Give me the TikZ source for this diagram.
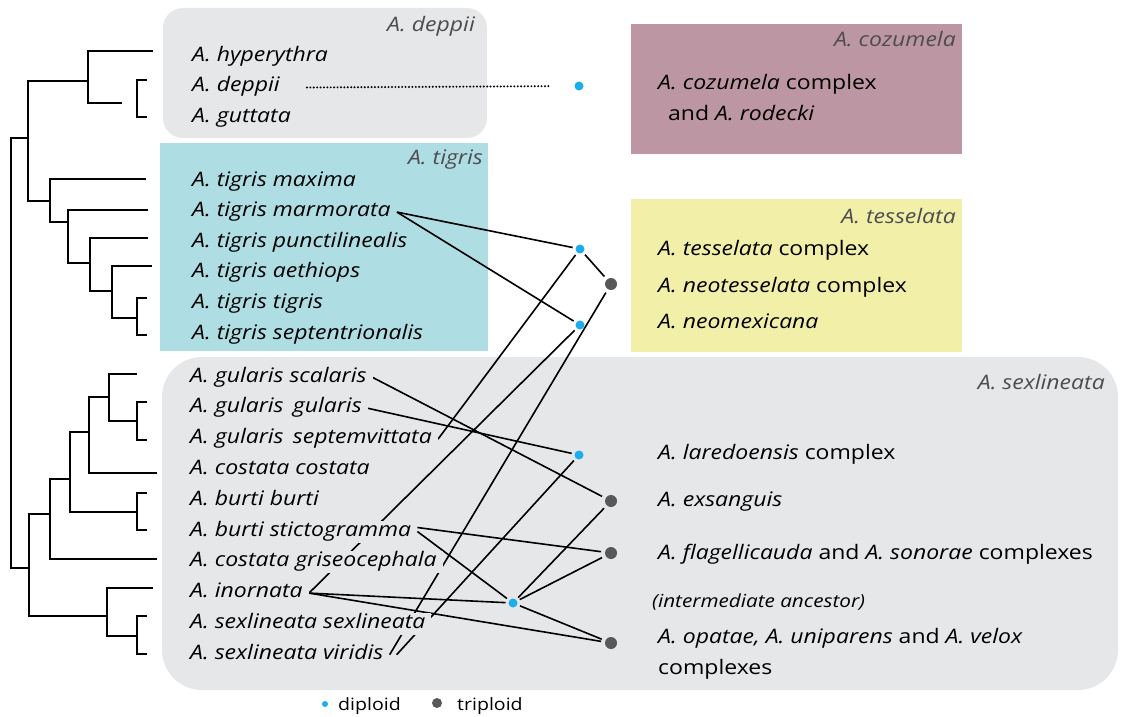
\documentclass[tikz,border=0pt]{standalone}
\usepackage{fontspec}
\setmainfont{Open Sans}[FakeStretch=1.15]

\definecolor{boxgray}{HTML}{E6E7E8}
\definecolor{tigriscyan}{HTML}{AEDDE3}
\definecolor{cozmauve}{HTML}{BC96A2}
\definecolor{tessyellow}{HTML}{F2F0A8}
\definecolor{labelgray}{HTML}{4D4D4F}
\definecolor{dipblue}{HTML}{1BADEC}
\definecolor{tripgray}{HTML}{58585A}

\pgfdeclarelayer{boxes}
\pgfdeclarelayer{links}
\pgfsetlayers{boxes,links,main}

\begin{document}
\begin{tikzpicture}[x=1pt, y=-1pt]
          \tikzstyle{taxon}=[anchor=base west, inner xsep=6pt, inner ysep=1.5pt, text height=14pt, text depth=5pt, font=\fontsize{20}{24}\selectfont\itshape]
          \tikzstyle{knock}=[taxon, fill=boxgray]
          \tikzstyle{group}=[anchor=base east, inner sep=0pt, text=labelgray, font=\fontsize{20}{24}\selectfont\itshape]
          \tikzstyle{clade}=[anchor=base west, inner sep=0pt, font=\fontsize{20}{24}\selectfont]
          \tikzstyle{diploid}=[circle, fill=dipblue, inner sep=0pt, minimum size=9pt, outer sep=3pt]
          \tikzstyle{triploid}=[circle, fill=tripgray, inner sep=0pt, minimum size=12pt, outer sep=4pt]
          \tikzstyle{branch}=[line width=1.6pt]
          \tikzstyle{link}=[line width=1.6pt]

          \useasboundingbox (0,0) rectangle (1122,717);

          \begin{pgfonlayer}{boxes}
            \fill[boxgray, rounded corners=20pt] (163,8) rectangle (487,138);
            \fill[tigriscyan] (160,143) rectangle (488,351);
            \fill[cozmauve] (631,24) rectangle (962,154);
            \fill[tessyellow] (631,199) rectangle (962,352);
            \fill[boxgray, rounded corners=40pt] (162,357) rectangle (1118,690);
          \end{pgfonlayer}

          \node (deppiilabel) at (475,32) [group] {A. deppii};
          \node (tigrislabel) at (483,164) [group] {A. tigris};
          \node (cozumelalabel) at (956,47) [group] {A. cozumela};
          \node (tesselatalabel) at (956,223) [group] {A. tesselata};
          \node (sexlineatalabel) at (1105,389) [group] {A. sexlineata};

          \node (hyper) at (186,62) [taxon] {A. hyperythra};
          \node (deppii) at (186,92) [taxon] {A. deppii};
          \node (gutt) at (186,122) [taxon] {A. guttata};

          \node (tmax) at (186,186) [taxon] {A. tigris maxima};
          \node (tmarm) at (186,216.6) [taxon] {A. tigris marmorata};
          \node (tpunct) at (186,247.2) [taxon] {A. tigris punctilinealis};
          \node (taeth) at (186,277.8) [taxon] {A. tigris aethiops};
          \node (ttig) at (186,308.4) [taxon] {A. tigris tigris};
          \node (tsept) at (186,339) [taxon] {A. tigris septentrionalis};

          \node (gscal) at (184,382) [knock] {A. gularis scalaris};
          \node (ggul) at (184,412.8) [knock] {A. gularis\, gularis};
          \node (gsept) at (184,443.6) [knock] {A. gularis\, septemvittata};
          \node (ccost) at (184,474.4) [knock] {A. costata costata};
          \node (bburti) at (184,505.2) [knock] {A. burti burti};
          \node (bstict) at (184,536) [knock] {A. burti stictogramma};
          \node (cgris) at (184,566.8) [knock] {A. costata griseocephala};
          \node (inorn) at (184,597.6) [knock] {A. inornata};
          \node (ssex) at (184,628.4) [knock] {A. sexlineata sexlineata};
          \node (svir) at (184,659.2) [knock] {A. sexlineata viridis};

          \node (cozumela) at (658,89) [clade] {\textit{A. cozumela} complex};
          \node (rodecki) at (668,121) [clade] {and \textit{A. rodecki}};
          \node (tesselata) at (658,255) [clade] {\textit{A. tesselata} complex};
          \node (neotess) at (658,292) [clade] {\textit{A. neotesselata} complex};
          \node (neomex) at (658,328) [clade] {\textit{A. neomexicana}};
          \node (laredo) at (658,459) [clade] {\textit{A. laredoensis} complex};
          \node (exsang) at (658,506) [clade] {\textit{A. exsanguis}};
          \node (flagel) at (658,559) [clade] {\textit{A. flagellicauda} and \textit{A. sonorae} complexes};
          \node (interm) at (652,607) [clade, font=\fontsize{18}{22}\selectfont\itshape] {(intermediate ancestor)};
          \node (opatae) at (658,643) [clade] {\textit{A. opatae, A. uniparens} and \textit{A. velox}};
          \node (opatae2) at (658,674) [clade] {complexes};

          \node (dd) at (579,86) [diploid] {};
          \node (d1) at (580,249) [diploid] {};
          \node (t1) at (611,284) [triploid] {};
          \node (d2) at (580,325) [diploid] {};
          \node (d3) at (579,455) [diploid] {};
          \node (t2) at (611,501) [triploid] {};
          \node (t3) at (611,553) [triploid] {};
          \node (d4) at (513,603) [diploid] {};
          \node (t4) at (611,643) [triploid] {};

          \draw[branch] (28,138) -| (11,568) -- (29,568);
          \draw[branch] (88,81) -| (28,201) -- (50,201);
          \draw[branch] (153,51) -| (88,103) -- (122,103);
          \draw[branch] (147,80) -| (137,117) -- (147,117);
          \draw[branch] (146,179) -| (50,222) -- (68,222);
          \draw[branch] (148,210) -| (68,263) -- (90,263);
          \draw[branch] (148,238) -| (90,291) -- (112,291);
          \draw[branch] (152,266) -| (112,318) -- (137,318);
          \draw[branch] (147,298) -| (137,335) -- (147,335);
          \draw[branch] (50,514) -| (29,616) -- (107,616);
          \draw[branch] (70,479) -| (50,559) -- (157,559);
          \draw[branch] (89,432) -| (70,512) -- (137,512);
          \draw[branch] (147,493) -| (137,530) -- (147,530);
          \draw[branch] (109,397) -| (89,473) -- (157,473);
          \draw[branch] (137,374) -| (109,421) -- (137,421);
          \draw[branch] (147,402) -| (137,440) -- (147,440);
          \draw[branch] (153,588) -| (107,636) -- (137,636);
          \draw[branch] (147,616) -| (137,654) -- (147,654);

          \begin{pgfonlayer}{links}
            \draw[line width=2.2pt, line cap=round, dash pattern=on 0pt off 3.4pt, shorten >=20pt] ([xshift=21pt]deppii.east) -- (dd);
            \draw[link] (tmarm.east) -- (d1);
            \draw[link] (tmarm.east) -- (d2);
            \draw[link] (d1) -- (t1);
            \draw[link] (d1) -- (gsept.east);
            \draw[link] (d2) -- (inorn.east);
            \draw[link] (t1) -- (svir.east);
            \draw[link] (gscal.east) -- (t2);
            \draw[link] (ggul.east) -- (d3);
            \draw[link] (d3) -- ([xshift=7pt]svir.east);
            \draw[link] (t2) -- (d4);
            \draw[link] ([yshift=4pt]bstict.east) -- (t3);
            \draw[link] (bstict.east) -- (d4);
            \draw[link] (t3) -- (d4);
            \draw[link] (inorn.east) -- (d4);
            \draw[link] (inorn.east) -- (t4);
            \draw[link] (d4) -- (t4);
          \end{pgfonlayer}

          \node (dipkey) at (325,704) [circle, fill=dipblue, inner sep=0pt, minimum size=6pt] {};
          \node (diplabel) at (338,710) [clade, font=\fontsize{17}{20}\selectfont] {diploid};
          \node (tripkey) at (437,703) [circle, fill=tripgray, inner sep=0pt, minimum size=10pt] {};
          \node (triplabel) at (457,710) [clade, font=\fontsize{17}{20}\selectfont] {triploid};
        \end{tikzpicture}
\end{document}
